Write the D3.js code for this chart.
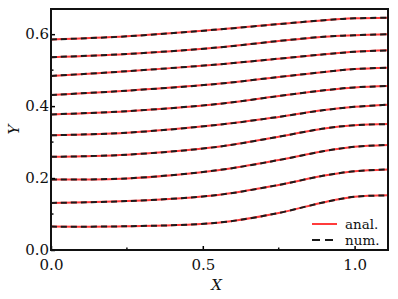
<!DOCTYPE html>
<html>
<head>
<meta charset="utf-8">
<script src="https://cdn.jsdelivr.net/npm/d3@7/dist/d3.min.js"></script>
<style>
	body { margin: 0; background: #fff; }
	text { font-family: "DejaVu Serif", serif; fill: #111; }
</style>
</head>
<body>
<div id="js-chart"></div>
<script>
// sample positions along X
const xs = [0, 0.25, 0.55, 0.75, 0.9, 1.0, 1.11];

// streamline heights, bottom to top
const curves = [
	[0.065, 0.066, 0.076, 0.103, 0.133, 0.148, 0.152],
	[0.131, 0.136, 0.153, 0.181, 0.207, 0.219, 0.224],
	[0.196, 0.199, 0.222, 0.250, 0.275, 0.287, 0.292],
	[0.259, 0.265, 0.287, 0.315, 0.338, 0.347, 0.350],
	[0.319, 0.326, 0.348, 0.370, 0.389, 0.398, 0.404],
	[0.377, 0.386, 0.406, 0.428, 0.444, 0.452, 0.456],
	[0.431, 0.443, 0.462, 0.481, 0.495, 0.503, 0.507],
	[0.484, 0.497, 0.516, 0.532, 0.544, 0.551, 0.555],
	[0.536, 0.545, 0.563, 0.581, 0.593, 0.597, 0.600],
	[0.585, 0.594, 0.613, 0.628, 0.639, 0.644, 0.646]
];

const xTicks = [0, 0.5, 1.0];
const xMinor = [0.25, 0.75];
const yTicks = [0, 0.2, 0.4, 0.6];
const yMinor = [0.1, 0.3, 0.5];

const W = 398, H = 299;
const m = { left: 51, top: 9, right: 10, bottom: 49 };

const x = d3.scaleLinear().domain([0, 1.11]).range([m.left, W - m.right]);
const y = d3.scaleLinear().domain([0, 0.67]).range([H - m.bottom, m.top]);

const svg = d3.select('#js-chart')
	.append('svg')
	.attr('width', W)
	.attr('height', H);

const line = d3.line()
	.x(d => x(d[0]))
	.y(d => y(d[1]))
	.curve(d3.curveCatmullRom.alpha(0.5));

const rows = curves.map(c => c.map((v, i) => [xs[i], v]));

// analytical (red)
svg.append('g').selectAll('path.anal')
	.data(rows)
	.enter().append('path')
	.attr('class', 'anal')
	.attr('d', line)
	.attr('fill', 'none')
	.attr('stroke', '#ff3b3b')
	.attr('stroke-width', 2);

// numerical (black dashed)
svg.append('g').selectAll('path.num')
	.data(rows)
	.enter().append('path')
	.attr('class', 'num')
	.attr('d', line)
	.attr('fill', 'none')
	.attr('stroke', '#1a1a1a')
	.attr('stroke-width', 2)
	.attr('stroke-dasharray', '6,4');

// axes, ticks inward
const xAxis = d3.axisBottom(x).tickValues(xTicks).tickSize(-4).tickPadding(9).tickFormat(d3.format('.1f'));
const yAxis = d3.axisLeft(y).tickValues(yTicks).tickSize(-4).tickPadding(2).tickFormat(d3.format('.1f'));

const gx = svg.append('g')
	.attr('transform', `translate(0,${H - m.bottom})`)
	.call(xAxis);
gx.select('.domain').remove();
gx.selectAll('text').attr('font-size', 15).attr('font-family', '"DejaVu Serif", serif');
gx.selectAll('line').attr('stroke-width', 1.5);
gx.selectAll('.minor').data(xMinor).enter().append('line')
	.attr('x1', d => x(d)).attr('x2', d => x(d))
	.attr('y1', 0).attr('y2', -2.5)
	.attr('stroke', '#111').attr('stroke-width', 1.5);

const gy = svg.append('g')
	.attr('transform', `translate(${m.left},0)`)
	.call(yAxis);
gy.select('.domain').remove();
gy.selectAll('text').attr('font-size', 15).attr('font-family', '"DejaVu Serif", serif');
gy.selectAll('line').attr('stroke-width', 1.5);
gy.selectAll('.minor').data(yMinor).enter().append('line')
	.attr('x1', 0).attr('x2', 2.5)
	.attr('y1', d => y(d)).attr('y2', d => y(d))
	.attr('stroke', '#111').attr('stroke-width', 1.5);

// frame
svg.append('rect')
	.attr('x', m.left).attr('y', m.top)
	.attr('width', W - m.right - m.left)
	.attr('height', H - m.bottom - m.top)
	.attr('fill', 'none')
	.attr('stroke', '#111')
	.attr('stroke-width', 2);

// axis titles
svg.append('text')
	.attr('x', (m.left + W - m.right) / 2 - 3)
	.attr('y', 290)
	.attr('text-anchor', 'middle')
	.attr('font-size', 15)
	.attr('font-style', 'italic')
	.text('X');

svg.append('text')
	.attr('transform', `translate(19,${(m.top + H - m.bottom) / 2}) rotate(-90)`)
	.attr('text-anchor', 'middle')
	.attr('font-size', 15)
	.attr('font-style', 'italic')
	.text('Y');

// legend
const legend = svg.append('g').attr('transform', 'translate(312,0)');
legend.append('line')
	.attr('x1', 0).attr('x2', 25).attr('y1', 224).attr('y2', 224)
	.attr('stroke', '#ff3b3b').attr('stroke-width', 2);
legend.append('line')
	.attr('x1', 0).attr('x2', 25).attr('y1', 240).attr('y2', 240)
	.attr('stroke', '#1a1a1a').attr('stroke-width', 2)
	.attr('stroke-dasharray', '8,5');
legend.append('text').attr('x', 33).attr('y', 228.5).attr('font-size', 13.5).text('anal.');
legend.append('text').attr('x', 33).attr('y', 244.5).attr('font-size', 13.5).text('num.');
</script>
</body>
</html>
